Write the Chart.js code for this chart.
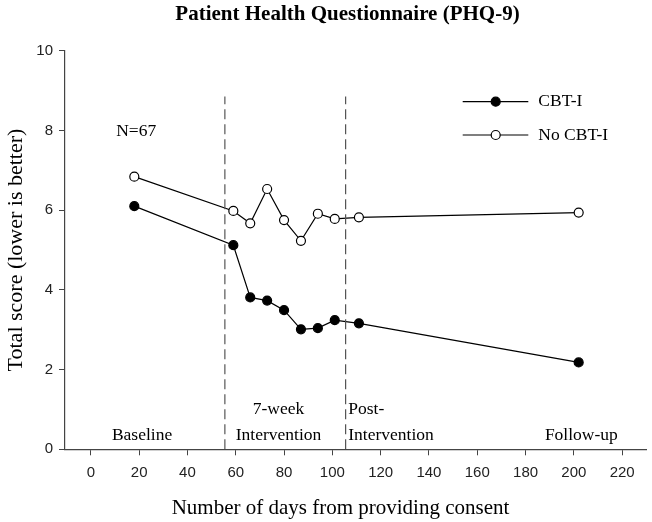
<!DOCTYPE html>
<html>
<head>
<meta charset="utf-8">
<script src="https://cdn.jsdelivr.net/npm/chart.js@4/dist/chart.umd.min.js"></script>
<style>
  html, body { margin: 0; padding: 0; background: #fff; }
</style>
</head>
<body>
<canvas id="grafico" width="652" height="522"></canvas>
<script>
// days since consent for each assessment
const dias = [18, 59, 66, 73, 80, 87, 94, 101, 111, 202];
const cbt = [6.10, 5.12, 3.81, 3.73, 3.49, 3.01, 3.04, 3.24, 3.16, 2.18];
const semCbt = [6.84, 5.98, 5.67, 6.53, 5.75, 5.23, 5.91, 5.78, 5.82, 5.94];
const series = ["CBT-I", "No CBT-I"];

// start / end of the 7-week intervention
const fases = [55.5, 105.5];
const faseTopo = 8.85;

const xTicks = [0, 20, 40, 60, 80, 100, 120, 140, 160, 180, 200, 220];
const yTicks = [0, 2, 4, 6, 8, 10];

const serif = "'Liberation Serif', 'Times New Roman', serif";
const sans = "'Liberation Sans', Arial, sans-serif";

// text labels placed in data units
const notas = [
  { t: "N=67", x: 10.5, y: 7.97, align: "left" },
  { t: "Baseline", x: 21.2, y: 0.36, align: "center" },
  { t: "7-week", x: 77.7, y: 0.99, align: "center" },
  { t: "Intervention", x: 77.7, y: 0.36, align: "center" },
  { t: "Post-", x: 106.6, y: 0.99, align: "left" },
  { t: "Intervention", x: 106.6, y: 0.36, align: "left" },
  { t: "Follow-up", x: 218.2, y: 0.36, align: "right" }
];

const pontos = (ys) => dias.map((d, i) => ({ x: d, y: ys[i] }));

const linhasFase = fases.map(f => ({
  data: [{ x: f, y: 0 }, { x: f, y: faseTopo }],
  showLine: true,
  borderColor: "#555",
  borderWidth: 1.2,
  borderDash: [10, 5],
  pointRadius: 0
}));

const textos = {
  id: "textos",
  afterDraw(chart) {
    const ctx = chart.ctx;
    const sx = chart.scales.x, sy = chart.scales.y;
    ctx.save();
    ctx.fillStyle = "#000";
    ctx.textBaseline = "middle";

    // title
    ctx.font = "bold 21px " + serif;
    ctx.textAlign = "center";
    ctx.fillText("Patient Health Questionnaire (PHQ-9)", 347.5, 15);

    // x axis title
    ctx.font = "21px " + serif;
    ctx.fillText("Number of days from providing consent", 340.5, 508);

    // notes
    ctx.font = "17.5px " + serif;
    notas.forEach(n => {
      ctx.textAlign = n.align;
      ctx.fillText(n.t, sx.getPixelForValue(n.x), sy.getPixelForValue(n.y));
    });

    // legend
    const ds = [chart.data.datasets[2], chart.data.datasets[3]];
    const linhas = [101.7, 135];
    ds.forEach((d, i) => {
      const y = linhas[i];
      ctx.strokeStyle = d.borderColor;
      ctx.lineWidth = d.borderWidth;
      ctx.beginPath();
      ctx.moveTo(462.7, y);
      ctx.lineTo(528.3, y);
      ctx.stroke();
      ctx.beginPath();
      ctx.arc(495.7, y, d.pointRadius, 0, Math.PI * 2);
      ctx.fillStyle = d.pointBackgroundColor;
      ctx.fill();
      ctx.stroke();
      ctx.fillStyle = "#000";
      ctx.textAlign = "left";
      ctx.fillText(d.label, 538.3, y);
    });
    ctx.restore();
  }
};

new Chart(document.getElementById("grafico"), {
  type: "scatter",
  data: {
    datasets: [
      ...linhasFase,
      {
        label: series[0],
        data: pontos(cbt),
        showLine: true,
        borderColor: "#000",
        borderWidth: 1.2,
        pointRadius: 4.5,
        pointBorderWidth: 1.2,
        pointBackgroundColor: "#000",
        pointBorderColor: "#000"
      },
      {
        label: series[1],
        data: pontos(semCbt),
        showLine: true,
        borderColor: "#000",
        borderWidth: 1.2,
        pointRadius: 4.5,
        pointBorderWidth: 1.2,
        pointBackgroundColor: "#fff",
        pointBorderColor: "#000"
      }
    ]
  },
  options: {
    responsive: false,
    animation: false,
    devicePixelRatio: 1,
    layout: { padding: { top: 50.7, right: 2, bottom: 0, left: 0 } },
    plugins: {
      legend: { display: false },
      tooltip: { enabled: false },
      title: { display: false }
    },
    scales: {
      x: {
        type: "linear",
        min: -10.7,
        max: 230,
        afterFit: s => { s.height = 72.7; },
        afterBuildTicks: s => { s.ticks = xTicks.map(v => ({ value: v })); },
        grid: { drawOnChartArea: false, tickLength: 6, color: "#444" },
        border: { display: true, color: "#444", width: 1.2 },
        ticks: { font: { family: sans, size: 15 }, color: "#222", padding: 9, maxRotation: 0 }
      },
      y: {
        min: 0,
        max: 10,
        afterFit: s => { s.width = 65; },
        afterBuildTicks: s => { s.ticks = yTicks.map(v => ({ value: v })); },
        grid: { drawOnChartArea: false, tickLength: 6, color: "#444" },
        border: { display: true, color: "#444", width: 1.2 },
        ticks: { font: { family: sans, size: 15 }, color: "#222", padding: 6 },
        title: {
          display: true,
          text: "Total score (lower is better)",
          font: { family: serif, size: 22 },
          color: "#000",
          padding: { top: 3, bottom: 0 }
        }
      }
    }
  },
  plugins: [textos]
});
</script>
</body>
</html>
